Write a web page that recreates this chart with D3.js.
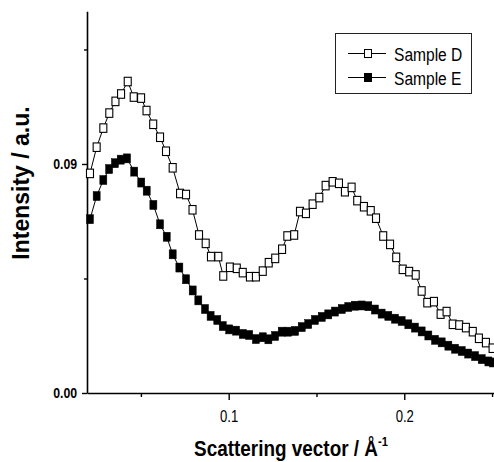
<!DOCTYPE html>
<html>
<head>
<meta charset="utf-8">
<script src="https://cdn.jsdelivr.net/npm/d3@7"></script>
<style>
  body { margin: 0; background: #fff; }
  svg { display: block; font-family: "Liberation Sans", Arial, sans-serif; }
</style>
</head>
<body>
<div id="chart"></div>
<script>
'use strict';

// Scattering vector (1/Å) and intensity (a.u.)
const qD = [0.0210, 0.0248, 0.0286, 0.0320, 0.0355, 0.0387, 0.0425, 0.0459, 0.0501, 0.0532,
  0.0570, 0.0609, 0.0643, 0.0681, 0.0723, 0.0757, 0.0794, 0.0831, 0.0869, 0.0899,
  0.0941, 0.0969, 0.1007, 0.1046, 0.1080, 0.1121, 0.1155, 0.1194, 0.1228, 0.1265,
  0.1304, 0.1334, 0.1373, 0.1406, 0.1440, 0.1478, 0.1516, 0.1552, 0.1592, 0.1628,
  0.1662, 0.1700, 0.1732, 0.1770, 0.1809, 0.1839, 0.1880, 0.1919, 0.1954, 0.1991,
  0.2028, 0.2065, 0.2099, 0.2131, 0.2169, 0.2207, 0.2241, 0.2276, 0.2313, 0.2351,
  0.2390, 0.2425, 0.2465, 0.2503];
const intensityD = [0.0863, 0.0966, 0.1041, 0.1100, 0.1146, 0.1175, 0.1224, 0.1163, 0.1159, 0.1110,
  0.1056, 0.1005, 0.0950, 0.0885, 0.0784, 0.0780, 0.0720, 0.0621, 0.0588, 0.0536,
  0.0536, 0.0460, 0.0494, 0.0490, 0.0473, 0.0457, 0.0457, 0.0479, 0.0512, 0.0529,
  0.0565, 0.0617, 0.0621, 0.0713, 0.0706, 0.0742, 0.0768, 0.0815, 0.0830, 0.0824,
  0.0791, 0.0808, 0.0756, 0.0732, 0.0716, 0.0687, 0.0617, 0.0584, 0.0533, 0.0486,
  0.0477, 0.0464, 0.0401, 0.0355, 0.0359, 0.0310, 0.0320, 0.0270, 0.0267, 0.0257,
  0.0241, 0.0215, 0.0198, 0.0176];

const qE = [0.0210, 0.0248, 0.0286, 0.0319, 0.0352, 0.0385, 0.0421, 0.0462, 0.0502, 0.0533,
  0.0571, 0.0609, 0.0647, 0.0681, 0.0719, 0.0757, 0.0795, 0.0827, 0.0865, 0.0897,
  0.0935, 0.0966, 0.1003, 0.1042, 0.1080, 0.1117, 0.1155, 0.1194, 0.1226, 0.1264,
  0.1302, 0.1339, 0.1378, 0.1416, 0.1453, 0.1491, 0.1530, 0.1567, 0.1605, 0.1644,
  0.1681, 0.1719, 0.1757, 0.1795, 0.1833, 0.1871, 0.1909, 0.1947, 0.1985, 0.2023,
  0.2061, 0.2099, 0.2137, 0.2175, 0.2213, 0.2251, 0.2289, 0.2327, 0.2364, 0.2403,
  0.2441, 0.2479, 0.2505];
const intensityE = [0.0683, 0.0774, 0.0837, 0.0880, 0.0903, 0.0917, 0.0922, 0.0870, 0.0827, 0.0795,
  0.0739, 0.0663, 0.0614, 0.0545, 0.0493, 0.0447, 0.0403, 0.0364, 0.0330, 0.0303,
  0.0287, 0.0263, 0.0250, 0.0245, 0.0232, 0.0228, 0.0212, 0.0219, 0.0211, 0.0224,
  0.0241, 0.0241, 0.0244, 0.0259, 0.0271, 0.0287, 0.0299, 0.0309, 0.0320, 0.0330,
  0.0338, 0.0343, 0.0344, 0.0341, 0.0328, 0.0312, 0.0303, 0.0292, 0.0283, 0.0270,
  0.0257, 0.0242, 0.0226, 0.0209, 0.0199, 0.0186, 0.0174, 0.0165, 0.0155, 0.0145,
  0.0133, 0.0124, 0.0120];

const seriesNames = ['Sample D', 'Sample E'];

// Axis ticks (labelled ones are the majors)
const xTicks = [0.05, 0.1, 0.15, 0.2, 0.25];
const xLabelled = [0.1, 0.2];
const yTicks = [0, 0.045, 0.09, 0.135];
const yLabelled = [0, 0.09];

const width = 494, height = 462;
const squish = 0.82;   // the original lettering is horizontally condensed

const x = d3.scaleLinear().domain([0.0193, 0.2511]).range([87, 494]);
const y = d3.scaleLinear().domain([0, 0.15]).range([393, 11.3]);

const svg = d3.select('#chart').append('svg')
  .attr('width', width)
  .attr('height', height);

// Axes
const xAxis = svg.append('g')
  .attr('transform', `translate(0,${y(0)})`)
  .call(d3.axisBottom(x)
    .tickValues(xTicks)
    .tickSizeOuter(0)
    .tickFormat(d => xLabelled.includes(d) ? d3.format('.1f')(d) : ''));

xAxis.attr('font-size', null).attr('font-family', null);
xAxis.select('.domain').attr('stroke-width', 1.6);
xAxis.selectAll('.tick line')
  .attr('stroke-width', 1.4)
  .attr('y2', d => xLabelled.includes(d) ? 7 : 4);
xAxis.selectAll('.tick text')
  .attr('y', 18)
  .attr('dy', '0.71em')
  .style('font-size', '16px')
  .attr('fill', '#000')
  .attr('transform', `scale(${squish},1)`);

const yAxis = svg.append('g')
  .attr('transform', `translate(${x.range()[0]},0)`)
  .call(d3.axisLeft(y)
    .tickValues(yTicks)
    .tickSizeOuter(0)
    .tickFormat(d => yLabelled.includes(d) ? d3.format('.2f')(d) : ''));

yAxis.attr('font-size', null).attr('font-family', null);
yAxis.select('.domain').attr('stroke-width', 1.6);
yAxis.selectAll('.tick line')
  .attr('stroke-width', 1.4)
  .attr('x2', d => yLabelled.includes(d) ? -5 : -3);
yAxis.selectAll('.tick text')
  .attr('x', -12)
  .style('font-size', '15px')
  .attr('font-weight', 'bold')
  .attr('fill', '#000')
  .attr('transform', `scale(${squish},1)`);

// Axis titles
svg.append('text')
  .attr('transform', `translate(291,456) scale(0.86,1)`)
  .attr('text-anchor', 'middle')
  .attr('font-size', 22)
  .attr('font-weight', 'bold')
  .text('Scattering vector / Å')
  .append('tspan')
  .attr('font-size', 13)
  .attr('dy', -10)
  .text('-1');

svg.append('text')
  .attr('transform', 'translate(29,183) rotate(-90)')
  .attr('text-anchor', 'middle')
  .attr('font-size', 23)
  .attr('font-weight', 'bold')
  .text('Intensity / a.u.');

// Series
const lineGen = d3.line().x(d => x(d[0])).y(d => y(d[1]));
const dataD = d3.zip(qD, intensityD);
const dataE = d3.zip(qE, intensityE);

const plot = svg.append('g');

function drawSeries(data, filled){
  plot.append('path')
    .datum(data)
    .attr('d', lineGen)
    .attr('fill', 'none')
    .attr('stroke', '#000')
    .attr('stroke-width', 1);

  const w = 7, h = filled ? 9 : 8.5;
  plot.append('g').selectAll('rect')
    .data(data)
    .join('rect')
    .attr('x', d => x(d[0]) - w / 2)
    .attr('y', d => y(d[1]) - h / 2)
    .attr('width', w)
    .attr('height', h)
    .attr('fill', filled ? '#000' : '#fff')
    .attr('stroke', '#000')
    .attr('stroke-width', filled ? 0.5 : 1.1);
}

drawSeries(dataD, false);
drawSeries(dataE, true);

// Legend
const legend = svg.append('g');
legend.append('rect')
  .attr('x', 335.5).attr('y', 33.5)
  .attr('width', 136).attr('height', 60)
  .attr('fill', '#fff')
  .attr('stroke', '#222')
  .attr('stroke-width', 1);

seriesNames.forEach((name, i) => {
  const cy = 53.5 + i * 24;
  const filled = i === 1;
  legend.append('line')
    .attr('x1', 348).attr('x2', 386)
    .attr('y1', cy).attr('y2', cy)
    .attr('stroke', '#000').attr('stroke-width', 1);
  legend.append('rect')
    .attr('x', 368 - 3.5).attr('y', cy - 4)
    .attr('width', 7).attr('height', 8)
    .attr('fill', filled ? '#000' : '#fff')
    .attr('stroke', '#000').attr('stroke-width', 1);
  legend.append('text')
    .attr('transform', `translate(394,${cy + 7}) scale(${squish},1)`)
    .attr('font-size', 19)
    .text(name);
});
</script>
</body>
</html>
